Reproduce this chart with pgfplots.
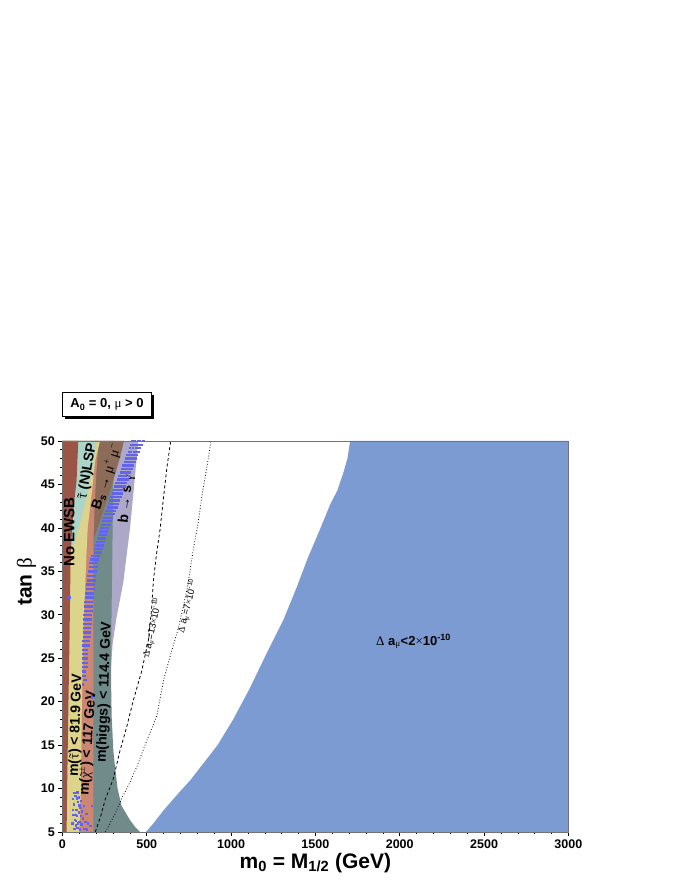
\documentclass[border=0pt]{standalone}
\usepackage{fontspec}
\setmainfont{Liberation Sans}
\newfontfamily\symf{Liberation Serif}
\usepackage{pgfplots}
\pgfplotsset{compat=1.18}

\definecolor{ewsb}{RGB}{155,85,70}
\definecolor{staulsp}{RGB}{172,212,200}
\definecolor{staumass}{RGB}{221,212,140}
\definecolor{charg}{RGB}{204,135,115}
\definecolor{bsmumu}{RGB}{140,108,88}
\definecolor{higgs}{RGB}{113,138,138}
\definecolor{bsg}{RGB}{172,168,200}
\definecolor{gmtwo}{RGB}{124,155,210}
\definecolor{scan}{RGB}{100,100,235}

\newcommand{\gr}[1]{{\symf\mdseries #1}}
\newcommand{\stau}{\gr{\accent"02DC τ}}
\newcommand{\chig}{\gr{\accent"02DC χ}}
\newcommand{\lab}{\fontsize{14}{16}\selectfont\bfseries}

\begin{document}
\begin{tikzpicture}
\begin{axis}[
  at={(0pt,0pt)}, anchor=south west,
  scale only axis, width=506pt, height=391pt,
  xmin=0, xmax=3000, ymin=5, ymax=50,
  xtick={0,500,...,3000}, ytick={5,10,...,50},
  minor x tick num=4, minor y tick num=4,
  xtick pos=bottom, ytick pos=left,
  tick align=outside,
  major tick length=4pt, minor tick length=2pt,
  axis line style={draw=gray!90!black, line width=0.8pt},
  tick style={black, line width=0.6pt},
  ticklabel style={font=\fontsize{12.5}{14}\selectfont\bfseries},
  /pgf/number format/assume math mode=true,
  /pgf/number format/1000 sep={},
  xlabel={m\textsubscript{0} = M\textsubscript{1/2} (GeV)},
  ylabel={tan \gr{β}},
  label style={font=\fontsize{21}{24}\selectfont\bfseries},
  xlabel style={yshift=2pt},
  ylabel style={at={(ticklabel cs:0.64)}, yshift=-2pt},
  axis on top,
]
% Delta a_mu < 2e-10
\addplot[fill=gmtwo, draw=none] coordinates {
  (495,5) (540,6) (600,7.5) (690,9.5) (760,11) (820,12.5) (920,15)
  (1014,18) (1110,21.5) (1212,25.6) (1310,29.4) (1390,33.2) (1450,36.3)
  (1520,39.5) (1590,42.8) (1630,44.3) (1665,46.3) (1690,48) (1706,50)
  (3000,50) (3000,5)} -- cycle;
% b -> s gamma
\addplot[fill=bsg, draw=none] coordinates {
  (0,24) (288,24) (298,26.7) (322,29.8) (361,33.7) (385,37.5) (401,40)
  (421,44) (440,48) (450,50) (0,50)} -- cycle;
% m(higgs)
\addplot[fill=higgs, draw=none] coordinates {
  (0,5) (460,5) (430,5.6) (400,6.4) (351,8) (327,10) (312,12.5) (302,14.4)
  (292,18.3) (289,22) (290,28) (294,34) (298,40) (305,50) (0,50)} -- cycle;
% Bs -> mu mu
\addplot[fill=bsmumu, draw=none] coordinates {
  (170,38) (200,39.5) (235,41.5) (270,43.5) (310,46) (340,48) (365,50)
  (170,50)} -- cycle;
% chargino
\addplot[fill=charg, draw=none] coordinates {
  (0,5) (183,5) (183,38) (190,42) (200,46) (215,50) (0,50)} -- cycle;
% stau mass
\addplot[fill=staumass, draw=none] coordinates {
  (0,5) (100,5) (110,10) (114,18) (124,28) (144,37.5) (150,40) (174,44)
  (194,47.7) (223,50) (0,50)} -- cycle;
% stau LSP
\addplot[fill=staulsp, draw=none] coordinates {
  (0,37) (52,37) (75,38.5) (110,41) (150,44) (180,47) (203,50) (0,50)} -- cycle;
% no EWSB
\addplot[fill=ewsb, draw=none] coordinates {
  (0,5) (25,5) (28,10) (32,15) (36,20) (42,27) (49,37) (60,40.5) (70,43)
  (84,45.4) (94,50) (0,50)} -- cycle;
% scan points
\addplot[only marks, mark=square*, mark size=0.7pt, scan, mark options={draw=scan, fill=scan}] coordinates {
  (415,50.0) (430,50.0) (445,50.0) (460,50.0) (478,50.0)
  (408,49.6) (425,49.6) (440,49.6) (452,49.6) (468,49.6)
  (400,49.2) (418,49.2) (433,49.2) (447,49.2) (460,49.2)
  (392,48.8) (405,48.8) (422,48.8) (438,48.8) (452,48.8)
  (385,48.4) (398,48.4) (413,48.4) (428,48.4) (442,48.4)
  (376,48.0) (390,48.0) (404,48.0) (420,48.0) (434,48.0)
  (368,47.6) (382,47.6) (396,47.6) (410,47.6) (425,47.6)
  (360,47.2) (374,47.2) (388,47.2) (402,47.2) (416,47.2)
  (352,46.8) (366,46.8) (380,46.8) (393,46.8) (408,46.8)
  (344,46.4) (358,46.4) (372,46.4) (386,46.4) (400,46.4)
  (336,46.0) (350,46.0) (364,46.0) (377,46.0) (392,46.0)
  (328,45.6) (342,45.6) (356,45.6) (370,45.6) (384,45.6)
  (320,45.2) (334,45.2) (348,45.2) (362,45.2) (376,45.2)
  (312,44.8) (326,44.8) (340,44.8) (354,44.8) (368,44.8)
  (305,44.4) (318,44.4) (332,44.4) (346,44.4) (359,44.4)
  (298,44.0) (311,44.0) (324,44.0) (338,44.0) (351,44.0)
  (290,43.6) (303,43.6) (316,43.6) (330,43.6) (343,43.6)
  (282,43.2) (295,43.2) (308,43.2) (322,43.2) (335,43.2)
  (275,42.8) (288,42.8) (300,42.8) (314,42.8) (327,42.8)
  (268,42.4) (280,42.4) (293,42.4) (306,42.4) (318,42.4)
  (260,42.0) (272,42.0) (285,42.0) (298,42.0) (310,42.0)
  (253,41.6) (265,41.6) (277,41.6) (290,41.6) (302,41.6)
  (246,41.2) (258,41.2) (270,41.2) (282,41.2) (294,41.2)
  (239,40.8) (250,40.8) (262,40.8) (274,40.8) (286,40.8)
  (232,40.4) (243,40.4) (255,40.4) (266,40.4) (278,40.4)
  (226,40.0) (237,40.0) (248,40.0) (259,40.0) (270,40.0)
  (220,39.6) (230,39.6) (241,39.6) (252,39.6) (262,39.6)
  (214,39.2) (224,39.2) (234,39.2) (245,39.2) (255,39.2)
  (208,38.8) (218,38.8) (228,38.8) (238,38.8) (248,38.8)
  (203,38.4) (212,38.4) (222,38.4) (232,38.4) (241,38.4)
  (198,38.0) (207,38.0) (216,38.0) (226,38.0) (235,38.0)
  (194,37.6) (202,37.6) (211,37.6) (220,37.6) (229,37.6)
  (190,37.2) (198,37.2) (206,37.2) (215,37.2) (223,37.2)
  (175,36.8) (188,36.8) (200,36.8) (212,36.8)
  (170,36.4) (183,36.4) (196,36.4) (209,36.4)
  (166,36.0) (179,36.0) (192,36.0) (205,36.0)
  (162,35.5) (175,35.5) (188,35.5) (201,35.5)
  (158,35.0) (171,35.0) (184,35.0) (197,35.0)
  (154,34.5) (167,34.5) (180,34.5) (193,34.5)
  (150,34.0) (163,34.0) (176,34.0) (189,34.0)
  (147,33.5) (160,33.5) (173,33.5) (186,33.5)
  (144,33.0) (157,33.0) (170,33.0) (183,33.0)
  (141,32.5) (154,32.5) (167,32.5) (180,32.5)
  (138,32.0) (151,32.0) (164,32.0) (177,32.0)
  (136,31.5) (149,31.5) (162,31.5) (175,31.5)
  (134,31.0) (147,31.0) (160,31.0) (173,31.0)
  (132,30.5) (145,30.5) (158,30.5) (171,30.5)
  (130,30.0) (143,30.0) (156,30.0) (169,30.0)
  (129,29.5) (141,29.5) (153,29.5) (166,29.5)
  (128,29.0) (140,29.0) (152,29.0) (164,29.0)
  (127,28.5) (139,28.5) (151,28.5) (162,28.5)
  (126,28.0) (138,28.0) (150,28.0) (160,28.0)
  (125,27.5) (137,27.5) (148,27.5) (158,27.5)
  (124,27.0) (136,27.0) (147,27.0) (157,27.0)
  (124,26.5) (135,26.5) (146,26.5) (155,26.5)
  (123,26.0) (134,26.0) (145,26.0)
  (123,25.5) (134,25.5) (144,25.5)
  (122,25.0) (133,25.0) (143,25.0)
  (122,24.5) (132,24.5) (142,24.5)
  (121,24.0) (131,24.0) (141,24.0)
  (121,23.5) (131,23.5) (120,23.0) (130,23.0)
  (125,22.5) (136,22.5) (122,22.0)
  (40,32) (175,20.5)
  (60,8.8) (68,8.2) (75,9.2) (82,7.6) (90,8.5) (65,7.0) (72,6.4) (85,6.9)
  (95,7.3) (78,5.8) (88,5.5) (100,6.2) (105,7.8) (112,5.9) (120,6.6) (130,5.4)
  (140,7.1) (150,6.0) (165,5.7) (175,8.0) (58,6.0) (96,9.0) (110,8.6) (125,8.0)
  (62,7.6) (70,5.4) (77,7.0) (84,8.9) (92,6.0) (99,8.1) (103,5.3) (108,6.9)
  (116,7.4) (70,9.5) (80,6.3) (88,9.6) (135,6.2) (145,5.3)};
% Delta a_mu = 13e-10
\addplot[black, line width=0.8pt, dash pattern=on 3pt off 2.5pt] coordinates {
  (195,5) (230,7) (253,8.7) (300,11) (342,14.4) (380,17) (421,20.2) (470,23.5)
  (510,27.1) (528,30.5) (540,34) (558,37) (579,39.8) (600,43.6) (620,47) (642,50)};
% Delta a_mu = 7e-10
\addplot[black, line width=0.8pt, dotted] coordinates {
  (255,5) (310,7) (355,9) (400,10.7) (441,12.5) (500,15.5) (559,18.3)
  (600,22.5) (650,26) (688,28.5) (740,33) (776,37.5) (800,40) (830,44)
  (860,47.4) (881,50)};

\node[rotate=90, font=\fontsize{15}{17}\selectfont\bfseries] at (axis cs:40,39.5) {No EWSB};
\node[rotate=80, font=\lab] at (axis cs:149,46.5) {\stau{} (N)LSP};
\node[rotate=72, font=\lab] at (axis cs:263,45.9) {B\textsubscript{s} \gr{→ μ\textsuperscript{+} μ\textsuperscript{−}}};
\node[rotate=84, font=\lab] at (axis cs:380,43.3) {b \gr{→} s \gr{γ}};
\node[rotate=88, font=\lab] at (axis cs:81,17.3) {m(\stau) {\textless} 81.9 GeV};
\node[rotate=86, font=\lab] at (axis cs:152,15.2) {m(\chig\textsuperscript{\gr{±}}) {\textless} 117 GeV};
\node[rotate=88, font=\lab] at (axis cs:250,21.1) {m(higgs) {\textless} 114.4 GeV};
\node[font=\fontsize{13}{15}\selectfont\bfseries] at (axis cs:2082,26.9)
  {\gr{Δ} a\textsubscript{\gr{μ}}{\textless}2\gr{×}10\textsuperscript{-10}};
\node[rotate=78, font=\fontsize{9.5}{11}\selectfont] at (axis cs:533,28.5)
  {\gr{Δ} a\textsubscript{\gr{μ}}=13\gr{×}10\textsuperscript{-10}};
\node[rotate=76, font=\fontsize{9.5}{11}\selectfont] at (axis cs:742,31)
  {\gr{Δ} a\textsubscript{\gr{μ}}=7\gr{×}10\textsuperscript{-10}};
\end{axis}
% title box with shadow
\fill[black] (2.5pt,412.8pt) rectangle (91.8pt,436.8pt);
\draw[fill=white, line width=1.2pt] (0pt,415.3pt) rectangle (89.3pt,439.3pt);
\node[font=\fontsize{13}{15}\selectfont\bfseries] at (44.6pt,427.3pt)
  {A\textsubscript{0} = 0, \gr{μ} {\textgreater} 0};
\pgfresetboundingbox
\path[use as bounding box] (-62.4pt,-49pt) rectangle (618.6pt,832pt);
\end{tikzpicture}
\end{document}
